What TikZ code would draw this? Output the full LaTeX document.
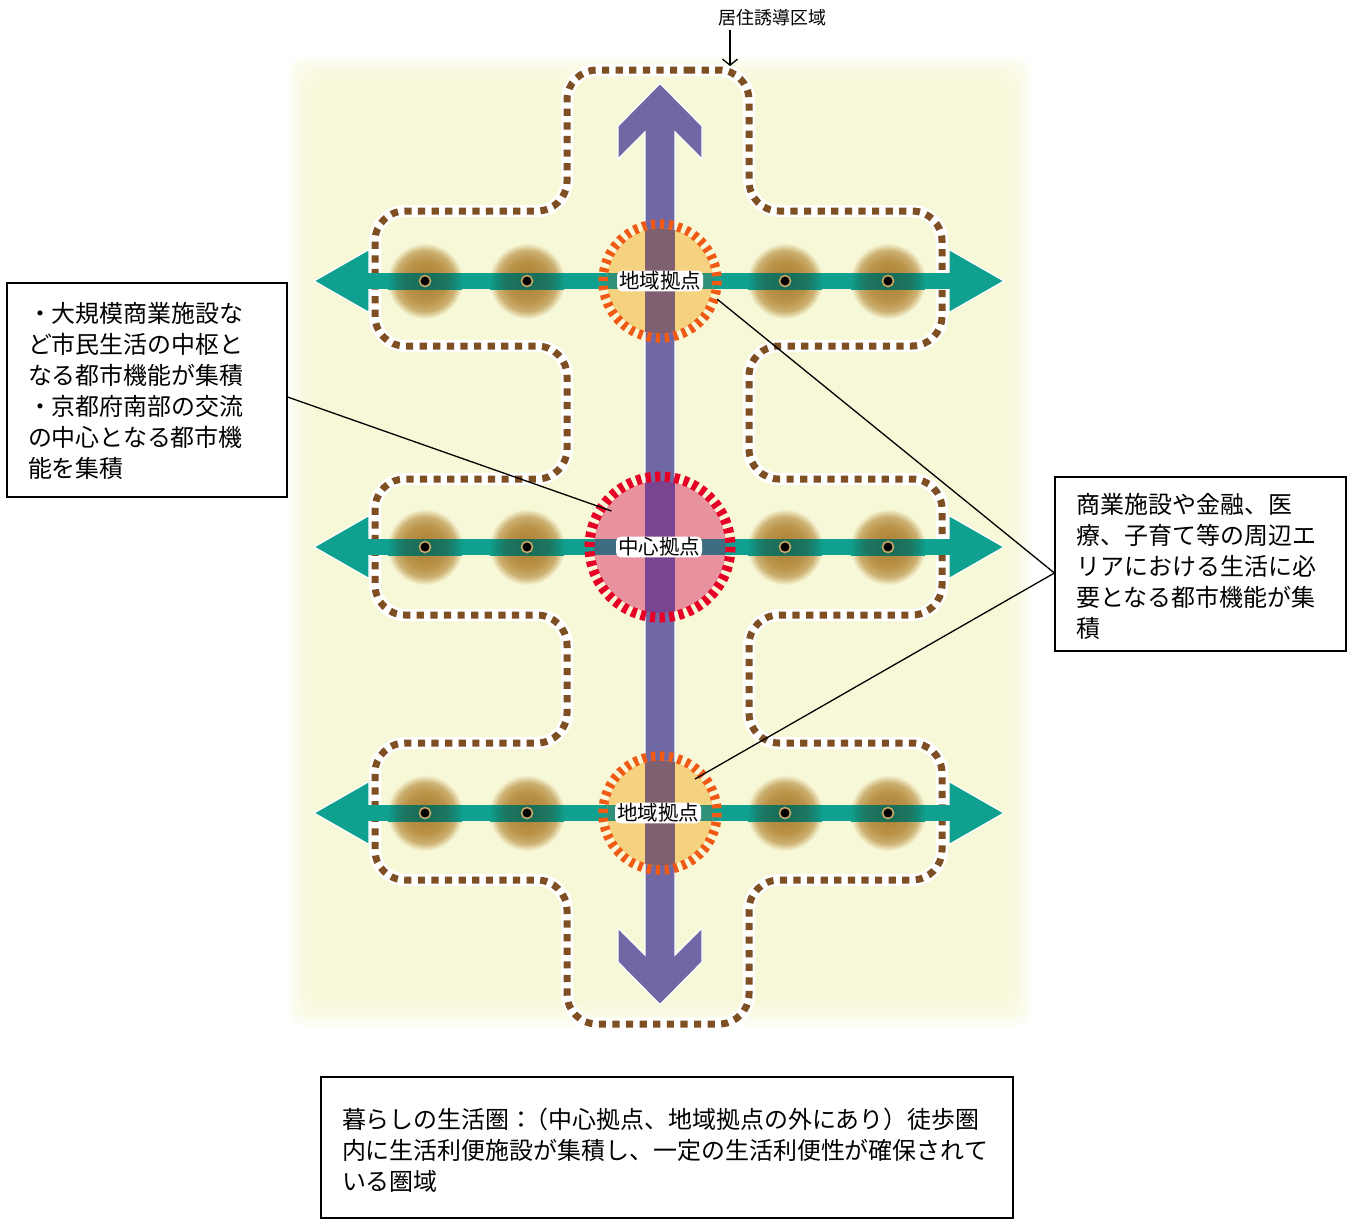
\documentclass[tikz,border=0pt]{standalone}
\usepackage{fontspec}
\setmainfont{Noto Sans CJK JP}
\usetikzlibrary{arrows.meta,shadings}
\definecolor{ylbg}{HTML}{F7F8D8}
\definecolor{tealc}{HTML}{0FA090}
\definecolor{purp}{HTML}{7068A5}
\definecolor{dotbrown}{HTML}{7F4F24}
\definecolor{orfill}{HTML}{F5D27F}
\definecolor{orring}{HTML}{F05A14}
\definecolor{orpurp}{HTML}{7F6070}
\definecolor{orteal}{HTML}{2F9278}
\definecolor{rdfill}{HTML}{E9929F}
\definecolor{rdring}{HTML}{E60026}
\definecolor{rdpurp}{HTML}{7A4590}
\definecolor{rdteal}{HTML}{3F6C80}
\pgfdeclareradialshading{glowb}{\pgfpoint{0bp}{0bp}}{rgb(0bp)=(0.66,0.49,0.19);rgb(14bp)=(0.73,0.58,0.29);rgb(20bp)=(0.80,0.69,0.44);rgb(25bp)=(0.969,0.969,0.843);rgb(50bp)=(0.969,0.969,0.843)}
\pgfdeclareradialshading{glowt}{\pgfpoint{0bp}{0bp}}{rgb(0bp)=(0.10,0.42,0.33);rgb(14bp)=(0.11,0.46,0.38);rgb(20bp)=(0.08,0.54,0.47);rgb(25bp)=(0.06,0.63,0.56);rgb(50bp)=(0.06,0.63,0.56)}
\tikzset{
  textbox/.style={draw=black,line width=1.2pt,fill=white,align=left,inner sep=0pt,font=\fontsize{23.95}{31}\selectfont},
  hublabel/.style={fill=white,rounded corners=5pt,inner xsep=2pt,inner ysep=1pt,font=\fontsize{20.5}{22}\selectfont},
  leader/.style={draw=black,line width=1.3pt},
  armfill/.style={draw=white,line width=1.2pt,line join=miter}
}
\begin{document}
\begin{tikzpicture}[x=1pt,y=-1pt]
\useasboundingbox (0,0) rectangle (1359,1219);
% soft background
\foreach \i in {0,...,15}{
  \pgfmathsetmacro{\p}{100*(1-(1-(\i+1)/16)^2)}
  \pgfmathsetmacro{\a}{288+2.2*\i}
  \pgfmathsetmacro{\b}{56+2.2*\i}
  \pgfmathsetmacro{\c}{1032-2.2*\i}
  \pgfmathsetmacro{\d}{1027-2.2*\i}
  \fill[ylbg!\p!white,rounded corners=14pt] (\a,\b) rectangle (\c,\d);
}
% living-area outline
\def\zone{(658,70) -- (749,70) -- (749,211) -- (942,211) -- (942,346) -- (749,346) -- (749,479) -- (942,479) -- (942,615) -- (749,615) -- (749,743) -- (942,743) -- (942,880) -- (749,880) -- (749,1024) -- (567,1024) -- (567,880) -- (375,880) -- (375,743) -- (567,743) -- (567,615) -- (375,615) -- (375,479) -- (567,479) -- (567,346) -- (375,346) -- (375,211) -- (567,211) -- (567,70) -- cycle}
\draw[white,line width=12pt,rounded corners=30pt] \zone;
\draw[dotbrown,line width=7pt,rounded corners=30pt,dash pattern=on 7.2pt off 6.4pt] \zone;
% glows
\foreach \y in {281,547,813}{
  \foreach \x in {425,527,785,888}{
    \shade[shading=glowb] (\x,\y) circle[radius=38];
  }
}
% teal arrows
\foreach \y in {281,547,813}{
  \fill[tealc] (365,\y-8) rectangle (953,\y+8);
  \fill[tealc,armfill] (314,\y) -- (369,\y-31.5) -- (369,\y+31.5) -- cycle;
  \fill[tealc,armfill] (1004,\y) -- (949,\y-31.5) -- (949,\y+31.5) -- cycle;
  \fill[tealc] (365,\y-8) rectangle (375,\y+8);
  \fill[tealc] (943,\y-8) rectangle (953,\y+8);
  \foreach \x in {425,527,785,888}{
    \begin{scope}
      \clip (\x-38,\y-8) rectangle (\x+38,\y+8);
      \shade[shading=glowt] (\x,\y) circle[radius=38];
    \end{scope}
    \fill[black,draw={rgb,255:red,201;green,168;blue,104},line width=1.6pt] (\x,\y) circle[radius=5.5];
  }
}
% purple arrow
\fill[purp,armfill] (660,83.5) -- (702,126) -- (702,159) -- (675,132) -- (675,955) -- (702,928) -- (702,962) -- (660,1004.5) -- (618,962) -- (618,928) -- (645,955) -- (645,132) -- (618,159) -- (618,126) -- cycle;
% hubs
\foreach \y in {281,813}{
  \begin{scope}
    \clip (660,\y) circle[radius=53];
    \fill[orfill] (600,\y-60) rectangle (720,\y+60);
    \fill[orteal] (600,\y-8) rectangle (720,\y+8);
    \fill[orpurp] (645,\y-60) rectangle (675,\y+60);
  \end{scope}
  \draw[orring,line width=9.5pt,dash pattern=on 4.3pt off 4.65pt] (660,\y) circle[radius=57];
}
\begin{scope}
  \clip (660,547) circle[radius=66];
  \fill[rdfill] (585,472) rectangle (735,622);
  \fill[rdteal] (585,539) rectangle (735,555);
  \fill[rdpurp] (645,472) rectangle (675,622);
\end{scope}
\draw[rdring,line width=10pt,dash pattern=on 5.2pt off 4.43pt] (660,547) circle[radius=70.5];
\node[hublabel] (hubn) at (660,281) {地域拠点};
\node[hublabel] (hubc) at (659,547) {中心拠点};
\node[hublabel] (hubs) at (658,813) {地域拠点};
% labels and boxes
\node[font=\fontsize{18}{20}\selectfont,inner sep=0pt] (zonelabel) at (772,18) {居住誘導区域};
\coordinate (zonetop) at (730,66);
\coordinate (zonefrom) at (730,30);
\draw[line width=1.3pt,-{Straight Barb[length=6pt,width=15pt]}] (zonefrom) -- (zonetop);
\node[textbox,minimum width=280pt,minimum height=214pt,text width=238pt] (boxl) at (147,390) {\rule{0pt}{22pt}・大規模商業施設な\\ど市民生活の中枢と\\なる都市機能が集積\\・京都府南部の交流\\の中心となる都市機\\能を集積};
\node[textbox,minimum width=291pt,minimum height=174pt,text width=248pt] (boxr) at (1200.5,564) {\rule{0pt}{25pt}商業施設や金融、医\\療、子育て等の周辺エ\\リアにおける生活に必\\要となる都市機能が集\\積};
\node[textbox,minimum width=692pt,minimum height=141pt,text width=650pt] (boxb) at (667,1147.5) {\rule{0pt}{25pt}暮らしの生活圏：\kern-9pt（中心拠点、地域拠点の外にあり）徒歩圏\\内に生活利便施設が集積し、一定の生活利便性が確保されて\\いる圏域};
% leaders
\coordinate (lc) at (611.5,511);
\coordinate (ln) at (717,299);
\coordinate (ls) at (695,779);
\coordinate (boxla) at (boxl.east);
\coordinate (boxra) at (boxr.west);
\draw[leader] ([yshift=-7pt]boxla) -- (lc);
\draw[leader] ([yshift=-9pt]boxra) -- (ln);
\draw[leader] ([yshift=-9pt]boxra) -- (ls);
\end{tikzpicture}
\end{document}
